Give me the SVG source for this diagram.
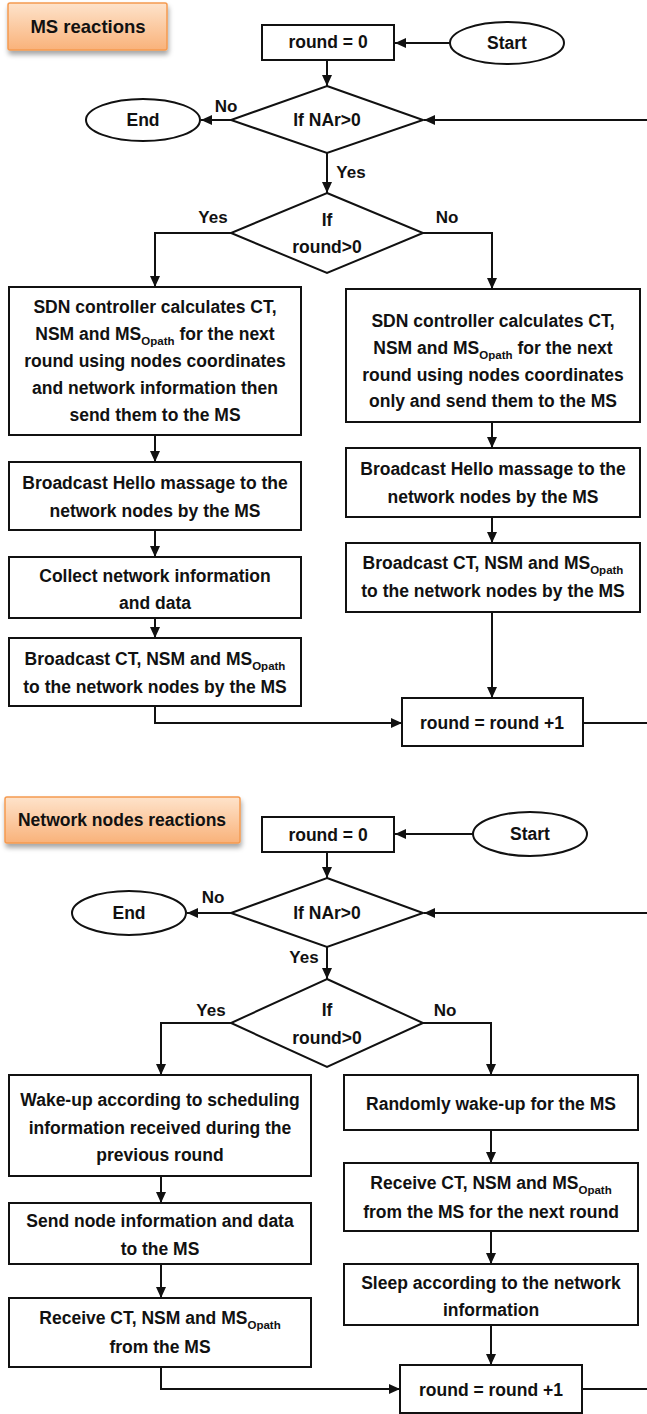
<svg xmlns="http://www.w3.org/2000/svg" width="647" height="1414" viewBox="0 0 647 1414">
  <defs>
    <linearGradient id="tagFill" x1="0" y1="0" x2="0" y2="1">
      <stop offset="0" stop-color="#fee3cb"/>
      <stop offset="1" stop-color="#f9b27a"/>
    </linearGradient>
    <filter id="tagShadow" x="-10%" y="-20%" width="125%" height="160%">
      <feDropShadow dx="1" dy="4" stdDeviation="2.5" flood-color="#000" flood-opacity="0.35"/>
    </filter>
    <marker id="arrow" markerUnits="userSpaceOnUse" markerWidth="11" markerHeight="10" refX="11" refY="5" orient="auto">
      <path d="M0,0 L11,5 L0,10 z" fill="#111"/>
    </marker>
  </defs>
  <style>
    text { font-family: "Liberation Sans", Arial, sans-serif; font-weight: bold; font-size: 17.5px; fill: #111; text-anchor: middle; }
    .tag rect { fill: url(#tagFill); stroke: #f59a50; stroke-width: 1.5; filter: url(#tagShadow); }
    .tag text { font-size: 18.5px; }
    .box { fill: #fff; stroke: #111; stroke-width: 2; }
    .conn path { fill: none; stroke: #111; stroke-width: 2; marker-end: url(#arrow); }
    .conn path.plain { marker-end: none; }
    .sub { font-size: 11.5px; }
    .lbl { font-size: 17px; }
  </style>

  <!-- ===== MS reactions ===== -->
  <g id="ms-tag" class="tag">
    <rect x="8" y="3" width="159" height="47" rx="2"/>
    <text x="88" y="33">MS reactions</text>
  </g>
  <g id="ms-init">
    <rect class="box" x="262" y="25" width="132" height="35"/>
    <text x="328" y="48">round = 0</text>
  </g>
  <g id="ms-start">
    <ellipse class="box" cx="507" cy="43" rx="57" ry="21"/>
    <text x="507" y="49">Start</text>
  </g>
  <g id="ms-check-nar">
    <polygon class="box" points="327,86 423,120 327,153 231,120"/>
    <text x="327" y="126">If NAr&gt;0</text>
  </g>
  <g id="ms-end">
    <ellipse class="box" cx="143" cy="120" rx="57" ry="21"/>
    <text x="143" y="126">End</text>
  </g>
  <g id="ms-check-round">
    <polygon class="box" points="327,193 423,233 327,273 231,233"/>
    <text x="327" y="226">If</text>
    <text x="327" y="253">round&gt;0</text>
  </g>
  <g id="ms-calc-full">
    <rect class="box" x="9" y="287" width="292" height="148"/>
    <text x="155" y="313">SDN controller calculates CT,</text>
    <text x="155" y="340">NSM and MS<tspan class="sub" dy="5">Opath</tspan><tspan dy="-5"> for the next</tspan></text>
    <text x="155" y="367">round using nodes coordinates</text>
    <text x="155" y="394">and network information then</text>
    <text x="155" y="421">send them to the MS</text>
  </g>
  <g id="ms-hello-a">
    <rect class="box" x="9" y="462" width="292" height="68"/>
    <text x="155" y="489">Broadcast Hello massage to the</text>
    <text x="155" y="517">network nodes by the MS</text>
  </g>
  <g id="ms-collect">
    <rect class="box" x="9" y="557" width="292" height="61"/>
    <text x="155" y="582">Collect network information</text>
    <text x="155" y="609">and data</text>
  </g>
  <g id="ms-broadcast-a">
    <rect class="box" x="9" y="638" width="292" height="68"/>
    <text x="155" y="665">Broadcast CT, NSM and MS<tspan class="sub" dy="5">Opath</tspan></text>
    <text x="155" y="693">to the network nodes by the MS</text>
  </g>
  <g id="ms-calc-coords">
    <rect class="box" x="346" y="289" width="294" height="133"/>
    <text x="493" y="327">SDN controller calculates CT,</text>
    <text x="493" y="354">NSM and MS<tspan class="sub" dy="5">Opath</tspan><tspan dy="-5"> for the next</tspan></text>
    <text x="493" y="381">round using nodes coordinates</text>
    <text x="493" y="407">only and send them to the MS</text>
  </g>
  <g id="ms-hello-b">
    <rect class="box" x="346" y="448" width="294" height="69"/>
    <text x="493" y="475">Broadcast Hello massage to the</text>
    <text x="493" y="503">network nodes by the MS</text>
  </g>
  <g id="ms-broadcast-b">
    <rect class="box" x="346" y="543" width="294" height="69"/>
    <text x="493" y="569">Broadcast CT, NSM and MS<tspan class="sub" dy="5">Opath</tspan></text>
    <text x="493" y="597">to the network nodes by the MS</text>
  </g>
  <g id="ms-increment">
    <rect class="box" x="402" y="698" width="181" height="48"/>
    <text x="492" y="729">round = round +1</text>
  </g>

  <!-- ===== Network nodes reactions ===== -->
  <g id="nn-tag" class="tag">
    <rect x="5" y="797" width="235" height="46" rx="2"/>
    <text x="122" y="826" style="font-size:17.5px">Network nodes reactions</text>
  </g>
  <g id="nn-init">
    <rect class="box" x="262" y="817" width="132" height="35"/>
    <text x="328" y="841">round = 0</text>
  </g>
  <g id="nn-start">
    <ellipse class="box" cx="530" cy="834" rx="57" ry="22"/>
    <text x="530" y="840">Start</text>
  </g>
  <g id="nn-check-nar">
    <polygon class="box" points="327,878 423,913 327,947 231,913"/>
    <text x="327" y="919">If NAr&gt;0</text>
  </g>
  <g id="nn-end">
    <ellipse class="box" cx="129" cy="913" rx="57" ry="22"/>
    <text x="129" y="919">End</text>
  </g>
  <g id="nn-check-round">
    <polygon class="box" points="327,979 423,1023 327,1067 231,1023"/>
    <text x="327" y="1016">If</text>
    <text x="327" y="1044">round&gt;0</text>
  </g>
  <g id="nn-wake-sched">
    <rect class="box" x="9" y="1075" width="302" height="101"/>
    <text x="160" y="1106">Wake-up according to scheduling</text>
    <text x="160" y="1134">information received during the</text>
    <text x="160" y="1161">previous round</text>
  </g>
  <g id="nn-send">
    <rect class="box" x="9" y="1203" width="302" height="61"/>
    <text x="160" y="1227">Send node information and data</text>
    <text x="160" y="1255">to the MS</text>
  </g>
  <g id="nn-receive-a">
    <rect class="box" x="9" y="1298" width="302" height="69"/>
    <text x="160" y="1324">Receive CT, NSM and MS<tspan class="sub" dy="5">Opath</tspan></text>
    <text x="160" y="1353">from the MS</text>
  </g>
  <g id="nn-wake-random">
    <rect class="box" x="344" y="1075" width="294" height="55"/>
    <text x="491" y="1110">Randomly wake-up for the MS</text>
  </g>
  <g id="nn-receive-b">
    <rect class="box" x="344" y="1163" width="294" height="68"/>
    <text x="491" y="1189">Receive CT, NSM and MS<tspan class="sub" dy="5">Opath</tspan></text>
    <text x="491" y="1218">from the MS for the next round</text>
  </g>
  <g id="nn-sleep">
    <rect class="box" x="344" y="1264" width="294" height="61"/>
    <text x="491" y="1289">Sleep according to the network</text>
    <text x="491" y="1316">information</text>
  </g>
  <g id="nn-increment">
    <rect class="box" x="400" y="1365" width="182" height="48"/>
    <text x="491" y="1396">round = round +1</text>
  </g>

  <!-- ===== connectors ===== -->
  <g id="connectors" class="conn">
    <path d="M450,43 H395"/>
    <path d="M327,60 V86"/>
    <path d="M231,120 H201"/>
    <path d="M647,120 H424"/>
    <path d="M327,153 V193"/>
    <path d="M231,233 H155 V287"/>
    <path d="M423,233 H492 V289"/>
    <path d="M155,435 V462"/>
    <path d="M155,530 V557"/>
    <path d="M155,618 V638"/>
    <path d="M155,706 V723 H402"/>
    <path d="M492,422 V448"/>
    <path d="M492,517 V543"/>
    <path d="M492,612 V698"/>
    <path class="plain" d="M583,723 H647"/>

    <path d="M473,834 H395"/>
    <path d="M327,852 V878"/>
    <path d="M231,913 H187"/>
    <path d="M647,913 H424"/>
    <path d="M327,947 V979"/>
    <path d="M231,1023 H161 V1075"/>
    <path d="M423,1023 H491 V1075"/>
    <path d="M161,1176 V1203"/>
    <path d="M161,1264 V1298"/>
    <path d="M161,1367 V1389 H400"/>
    <path d="M491,1130 V1163"/>
    <path d="M491,1231 V1264"/>
    <path d="M491,1325 V1365"/>
    <path class="plain" d="M582,1389 H647"/>
  </g>

  <!-- branch labels -->
  <g id="branch-labels" class="lbl">
    <text class="lbl" x="226" y="112">No</text>
    <text class="lbl" x="351" y="178">Yes</text>
    <text class="lbl" x="213" y="223">Yes</text>
    <text class="lbl" x="447" y="223">No</text>
    <text class="lbl" x="213" y="903">No</text>
    <text class="lbl" x="304" y="963">Yes</text>
    <text class="lbl" x="211" y="1016">Yes</text>
    <text class="lbl" x="445" y="1016">No</text>
  </g>
</svg>
